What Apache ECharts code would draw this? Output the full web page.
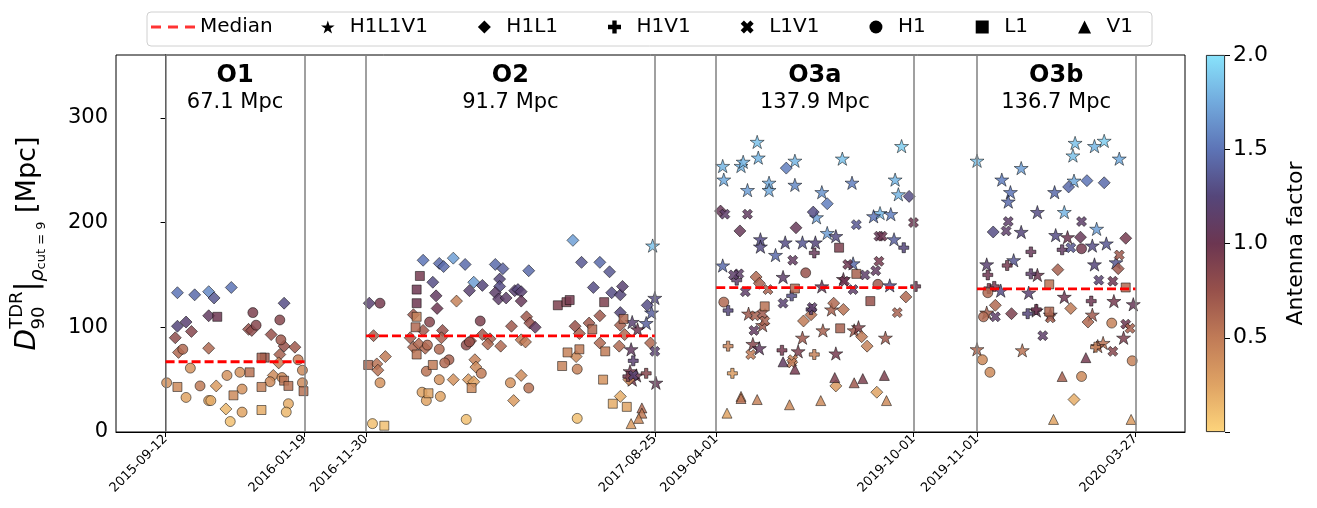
<!DOCTYPE html>
<html><head><meta charset="utf-8">
<script src="https://cdn.jsdelivr.net/npm/echarts@6/dist/echarts.min.js"></script>
<style>html,body{margin:0;padding:0;background:#fff}#c{width:1317px;height:508px}</style>
</head><body><div id="c"></div>
<script>
// ---------- data ----------
const runNames = ['O1', 'O2', 'O3a', 'O3b'];
const runMedians = [67.1, 91.7, 137.9, 136.7];
const runStartDates = ['2015-09-12', '2016-11-30', '2019-04-01', '2019-11-01'];
const runEndDates = ['2016-01-19', '2017-08-25', '2019-10-01', '2020-03-27'];
const runGapDays = [57, 57, 59]; // compressed gaps between runs on the x axis
const yTicks = [0, 100, 200, 300];
const cbTicks = [0.5, 1.0, 1.5, 2.0];
const networks = ['H1L1V1', 'H1L1', 'H1V1', 'L1V1', 'H1', 'L1', 'V1'];

// each point: [run index, day since run start, D90 (Mpc), antenna factor]
const H1L1V1 = [
 [1,266,178,1.85],[1,268,128,1.3],[1,265,114,1.4],[1,260,104,1.4],[1,247,105,1.2],[1,252,98,1.0],[1,246,79,1.1],[1,269,47,1.05],[1,245,58,0.95],[1,251,54,1.0],[1,247,50,0.95],
 [2,38,277,1.85],[2,39,262,1.8],[2,6,254,1.8],[2,7,241,1.75],[2,23,254,1.8],[2,25,258,1.8],[2,73,259,1.8],[2,117,261,1.85],[2,172,273,1.9],[2,49,238,1.75],[2,49,231,1.75],[2,29,231,1.7],[2,73,236,1.6],[2,98,229,1.65],[2,126,238,1.55],[2,166,241,1.8],[2,169,227,1.8],[2,93,205,1.7],[2,152,209,1.8],[2,146,206,1.5],[2,162,208,1.55],[2,41,184,1.3],[2,41,177,1.3],[2,64,181,1.3],[2,80,181,1.35],[2,92,181,1.25],[2,55,169,1.45],[2,103,190,1.7],[2,111,187,1.3],[2,165,184,1.4],[2,6,159,1.45],[2,62,148,1.15],[2,127,161,1.45],[2,161,140,1.3],[2,98,139,1.05],[2,107,117,0.65],[2,30,113,0.7],[2,43,102,0.7],[2,80,90,0.7],[2,99,97,0.65],[2,128,97,0.7],[2,132,100,0.85],[2,157,90,0.7],[2,34,84,0.85],[2,40,80,1.1],[2,76,77,0.9],[2,111,75,0.95],[2,118,146,1.0],
 [3,0,259,1.85],[3,41,252,1.7],[3,23,241,1.55],[3,31,229,1.5],[3,29,220,1.45],[3,91,276,1.85],[3,89,264,1.85],[3,109,273,1.8],[3,118,278,1.9],[3,132,261,1.75],[3,72,229,1.45],[3,90,240,1.75],[3,81,210,1.8],[3,56,210,1.3],[3,111,194,1.7],[3,41,191,1.25],[3,73,188,1.3],[3,84,186,1.0],[3,107,178,1.3],[3,120,180,1.35],[3,34,164,1.35],[3,9,160,1.2],[3,109,160,1.25],[3,129,162,1.35],[3,56,150,1.0],[3,22,135,1.3],[3,48,133,1.2],[3,81,129,1.0],[3,127,125,0.95],[3,145,122,1.05],[3,107,112,0.7],[3,9,114,0.65],[3,55,116,1.05],[3,68,112,1.1],[3,136,90,0.9],[3,117,85,0.55],[3,112,82,0.6],[3,0,79,0.6],[3,42,78,0.55]
];
const H1L1 = [
 [0,11,133,1.5],[0,27,131,1.45],[0,40,134,1.6],[0,45,128,1.35],[0,61,138,1.5],[0,110,123,1.3],[0,11,101,1.25],[0,19,105,1.2],[0,24,96,0.85],[0,9,90,0.8],[0,40,111,1.1],[0,40,80,0.6],[0,12,76,0.6],[0,77,98,0.75],[0,80,97,0.8],[0,98,93,0.75],[0,110,82,0.75],[0,120,81,0.7],[0,106,74,0.65],[0,105,66,0.45],[0,100,54,0.4],[0,47,44,0.3],[0,56,22,0.15],
 [1,53,164,1.5],[1,68,161,1.45],[1,72,158,1.45],[1,81,166,1.7],[1,92,160,1.45],[1,120,160,1.45],[1,127,156,1.4],[1,100,143,1.7],[1,108,140,1.25],[1,96,135,1.2],[1,124,146,1.25],[1,124,139,1.3],[1,120,133,1.15],[1,123,127,1.15],[1,130,128,1.15],[1,138,135,1.2],[1,62,143,1.3],[1,65,130,1.1],[1,66,118,1.0],[1,84,125,0.45],[1,3,123,1.2],[1,44,112,0.7],[1,53,97,0.7],[1,71,97,0.75],[1,7,92,0.65],[1,41,90,0.65],[1,44,81,0.6],[1,49,84,0.6],[1,55,80,0.6],[1,70,90,0.65],[1,97,87,0.7],[1,108,93,0.7],[1,115,89,0.65],[1,113,84,0.6],[1,125,82,0.6],[1,135,101,0.7],[1,18,72,0.5],[1,10,65,0.55],[1,11,59,0.55],[1,101,69,0.45],[1,102,62,0.4],[1,81,50,0.35],[1,95,50,0.3],[1,100,48,0.25],[1,137,30,0.3],
 [1,192,183,1.7],[1,200,162,1.35],[1,217,162,1.45],[1,226,153,1.35],[1,151,154,1.45],[1,141,136,1.25],[1,144,134,1.2],[1,144,125,1.05],[1,211,138,1.3],[1,228,133,1.3],[1,236,131,1.25],[1,238,139,1.2],[1,261,121,1.3],[1,236,114,1.25],[1,149,110,0.7],[1,152,104,0.75],[1,157,100,1.1],[1,194,101,0.75],[1,207,104,0.7],[1,217,111,0.7],[1,198,94,0.65],[1,236,102,0.65],[1,240,93,0.6],[1,217,85,0.6],[1,235,82,0.6],[1,264,85,0.6],[1,144,88,0.5],[1,148,86,0.5],[1,195,72,0.4],[1,144,54,0.4],[1,236,34,0.2],[1,244,50,0.4],
 [2,65,252,1.55],[2,103,218,1.55],[2,90,210,1.3],[2,179,225,1.3],[2,4,211,1.05],[2,22,192,1.05],[2,74,195,1.05],[2,37,148,0.6],[2,40,142,0.65],[2,176,129,0.6],[2,109,123,0.6],[2,118,117,0.55],[2,81,106,0.5],[2,88,112,0.55],[2,135,91,0.5],[2,140,82,0.45],[2,111,44,0.3],[2,149,38,0.25],
 [3,102,240,1.5],[3,118,238,1.45],[3,85,234,1.45],[3,15,191,1.3],[3,96,186,1.05],[3,138,185,0.95],[3,75,155,0.65],[3,131,156,0.7],[3,17,121,0.6],[3,32,113,0.9],[3,87,118,0.5],[3,103,105,0.6],[3,90,31,0.2]
];
const H1V1 = [
 [1,248,68,1.2],[1,260,56,0.85],[1,243,53,0.95],
 [2,174,176,1.25],[2,91,171,1.05],[2,19,145,1.15],[2,11,116,1.25],[2,70,130,1.3],[2,88,117,1.2],[2,11,82,0.45],[2,61,78,0.95],[2,91,74,0.45],[2,15,56,0.3],[2,185,139,1.0],
 [3,50,172,1.05],[3,79,174,1.1],[3,28,159,0.95],[3,10,150,1.0],[3,50,151,1.15],[3,16,139,0.95],[3,47,113,1.25],[3,55,117,1.0],[3,106,125,1.0],[3,110,81,0.45],[3,11,137,0.9]
];
const L1V1 = [
 [1,268,77,1.2],[1,248,54,1.2],
 [2,8,208,1.15],[2,29,208,1.1],[2,71,164,1.1],[2,130,198,1.35],[2,151,187,1.05],[2,154,187,1.0],[2,183,200,1.0],[2,21,151,1.15],[2,122,160,1.0],[2,151,163,0.95],[2,148,154,1.1],[2,138,150,1.15],[2,62,123,1.2],[2,168,114,0.65],[2,89,119,1.15],[2,36,111,0.65],[2,43,113,0.7],[2,45,106,0.65],[2,35,97,1.1],[2,32,74,0.5],[2,71,69,0.45],[2,70,66,0.5],[2,27,134,1.15],[2,48,136,0.65],[2,127,136,1.15],[2,119,144,1.0],[2,16,150,1.15],
 [3,29,201,1.15],[3,27,192,1.15],[3,97,201,1.15],[3,87,176,1.35],[3,113,145,1.2],[3,126,144,1.0],[3,132,169,0.7],[3,17,110,1.15],[3,68,109,0.65],[3,138,103,1.0],[3,142,99,0.65],[3,61,92,1.15],[3,126,77,0.85]
];
const H1 = [
 [0,81,114,0.9],[0,84,102,0.85],[0,106,107,0.85],[0,107,88,0.7],[0,16,79,0.6],[0,123,69,0.45],[0,127,59,0.4],[0,127,47,0.4],[0,1,47,0.35],[0,23,61,0.35],[0,32,44,0.5],[0,57,54,0.35],[0,69,57,0.35],[0,71,41,0.35],[0,97,48,0.4],[0,108,52,0.4],[0,19,33,0.25],[0,40,30,0.25],[0,42,30,0.2],[0,71,19,0.25],[0,114,27,0.2],[0,112,19,0.15],[0,60,10,0.1],
 [1,13,123,0.95],[1,59,105,0.85],[1,106,106,0.9],[1,57,83,0.6],[1,68,79,0.6],[1,93,83,0.8],[1,96,86,0.75],[1,77,69,0.65],[1,73,66,0.6],[1,56,58,0.55],[1,107,56,0.5],[1,13,47,0.35],[1,68,50,0.35],[1,134,47,0.35],[1,52,38,0.25],[1,56,30,0.25],[1,69,34,0.25],[1,6,8,0.1],[1,93,12,0.1],[1,196,60,0.45],[1,151,42,0.55],[1,196,13,0.1],
 [2,7,124,0.6],[2,83,152,0.75],[2,150,141,0.7],
 [3,97,175,0.95],[3,10,133,0.6],[3,6,110,0.6],[3,125,104,0.45],[3,5,69,0.4],[3,12,57,0.4],[3,97,53,0.4],[3,144,68,0.45]
];
const L1 = [
 [0,48,110,1.0],[0,92,71,0.7],[0,89,71,0.65],[0,78,57,0.55],[0,110,49,0.55],[0,114,44,0.55],[0,128,39,0.55],[0,89,43,0.45],[0,11,43,0.4],[0,63,35,0.4],[0,89,21,0.2],
 [1,50,149,0.95],[1,47,136,1.0],[1,47,123,1.0],[1,47,110,0.45],[1,46,100,0.6],[1,2,64,0.6],[1,47,74,0.55],[1,62,64,0.5],[1,98,42,0.4],[1,58,37,0.25],[1,17,6,0.1],[1,178,121,0.9],[1,186,124,0.9],[1,189,126,0.95],[1,221,124,0.9],[1,210,98,0.6],[1,239,108,0.6],[1,198,79,0.5],[1,187,76,0.45],[1,222,77,0.5],[1,182,63,0.45],[1,220,50,0.35],[1,229,27,0.2],[1,242,24,0.25],
 [2,114,176,0.9],[2,130,151,0.65],[2,45,120,0.55],[2,143,125,0.75],[2,115,99,0.65],[2,73,137,0.6],
 [3,67,141,0.55],[3,138,138,0.6],[3,67,115,0.6]
];
const V1 = [
 [1,256,23,0.6],[1,256,18,0.5],[1,253,13,0.4],[1,246,8,0.3],
 [2,62,67,1.1],[2,73,60,0.95],[2,110,52,0.9],[2,128,47,0.7],[2,136,51,0.9],[2,156,54,0.9],[2,23,34,0.45],[2,23,32,0.55],[2,38,31,0.45],[2,68,26,0.4],[2,97,30,0.4],[2,158,30,0.4],[2,10,18,0.25],
 [3,101,71,0.95],[3,79,53,0.65],[3,71,12,0.25],[3,143,12,0.3]
];
// colormap (antenna factor 0 -> 2)
const cmapColors = ['#fdd47b','#dfa364','#c07b57','#97514b','#6c3651','#55467a','#5d74b6','#72aadd','#88e3fb'];

// ---------- layout helpers ----------
const DAY = 86400000;
const runLen = runStartDates.map((d, i) => Math.round((Date.parse(runEndDates[i]) - Date.parse(d)) / DAY));
const runStart = [0];
for (let i = 1; i < 4; i++) runStart.push(runStart[i - 1] + runLen[i - 1] + runGapDays[i - 1]);
const pad = 46;
const xMin = -pad, xMax = runStart[3] + runLen[3] + pad;
const tickVals = [], tickLbl = {};
for (let i = 0; i < 4; i++) {
  tickVals.push(runStart[i], runStart[i] + runLen[i]);
  tickLbl[runStart[i]] = runStartDates[i];
  tickLbl[runStart[i] + runLen[i]] = runEndDates[i];
}
const toXY = arr => arr.map(p => [runStart[p[0]] + p[1], p[2], p[3]]);

const STAR = 'path://M0,-1L0.2245,-0.309L0.951,-0.309L0.363,0.118L0.588,0.809L0,0.382L-0.588,0.809L-0.363,0.118L-0.951,-0.309L-0.2245,-0.309Z';
const PLUS = 'path://M-1,-3L1,-3L1,-1L3,-1L3,1L1,1L1,3L-1,3L-1,1L-3,1L-3,-1L-1,-1Z';
const XMARK = 'path://M2,-4L4,-2L2,0L4,2L2,4L0,2L-2,4L-4,2L-2,0L-4,-2L-2,-4L0,-2Z';
const DIAM = 'path://M0,-1L1,0L0,1L-1,0Z';
const SQR = 'path://M-1,-1L1,-1L1,1L-1,1Z';
const TRI = 'path://M0,-1L1,1L-1,1Z';
const DASH = 'path://M0,0h10v3h-10zM17,0h10v3h-10zM34,0h10v3h-10z';
const netData = { H1L1V1, H1L1, H1V1, L1V1, H1, L1, V1 };
const netSymbol = { H1L1V1: [STAR, 14], H1L1: [DIAM, 12], H1V1: [PLUS, 10], L1V1: [XMARK, 10], H1: ['circle', 10], L1: [SQR, 9], V1: [TRI, 10] };

const FONT = 'DejaVu Sans';
const series = networks.map(n => ({
  name: n, type: 'scatter', xAxisIndex: 0, yAxisIndex: 0,
  symbol: netSymbol[n][0], symbolSize: netSymbol[n][1], symbolKeepAspect: true,
  itemStyle: { opacity: 0.85, borderColor: '#000', borderWidth: 0.6 },
  data: toXY(netData[n]), z: 3, silent: true
}));

// legend proxy for the median line
series.push({ name: 'Median', type: 'scatter', data: [], symbol: DASH, symbolKeepAspect: true, itemStyle: { color: '#ff0000' } });
// median line segments
const medData = [];
for (let i = 0; i < 4; i++) {
  if (i > 0) medData.push([runStart[i] - 1, '-']);
  medData.push([runStart[i], runMedians[i]], [runStart[i] + runLen[i], runMedians[i]]);
}
series.push({
  name: 'medianLine', type: 'line', data: medData, symbol: 'none', connectNulls: false,
  lineStyle: { color: '#ff0000', width: 2.8, type: [9, 4] }, itemStyle: { color: '#ff0000' }, z: 5, silent: true
});
// run boundaries
series.push({
  name: 'bounds', type: 'line', data: [], z: 1, silent: true,
  markLine: { silent: true, symbol: ['none', 'none'], label: { show: false },
    lineStyle: { color: '#808080', width: 1.5, type: 'solid' }, animation: false,
    data: tickVals.map(v => ({ xAxis: v })) }
});
// run labels
const noBorder = { textBorderWidth: 0, textBorderColor: 'transparent', textShadowBlur: 0 };
series.push({
  name: 'runLabels', type: 'scatter', symbolSize: 0, silent: true, z: 6,
  itemStyle: { color: '#000', opacity: 1 },
  data: runNames.map((n, i) => [runStart[i] + runLen[i] / 2, 328, n, runMedians[i]]),
  label: Object.assign({ show: true, position: 'inside', color: '#000', opacity: 1, fontFamily: FONT,
    formatter: p => '{a|' + p.data[2] + '}\n{b|' + p.data[3].toFixed(1) + ' Mpc}',
    rich: { a: Object.assign({ fontSize: 24, fontWeight: 'bold', lineHeight: 28, color: '#000', fontFamily: FONT, align: 'center' }, noBorder),
            b: Object.assign({ fontSize: 21, lineHeight: 26, color: '#000', fontFamily: FONT, align: 'center' }, noBorder) } }, noBorder)
});
// colorbar
series.push({
  name: 'colorbar', type: 'bar', xAxisIndex: 1, yAxisIndex: 1, data: [2], barWidth: '100%', silent: true,
  itemStyle: { borderColor: '#000', borderWidth: 0.8,
    color: { type: 'linear', x: 0, y: 1, x2: 0, y2: 0,
      colorStops: cmapColors.map((c, i) => ({ offset: i / (cmapColors.length - 1), color: c })) } }
});

const option = {
  animation: false,
  backgroundColor: '#fff',
  textStyle: { fontFamily: FONT },
  grid: [
    { left: 113, top: 55, width: 1072, height: 377, show: true, borderColor: '#000', borderWidth: 1, backgroundColor: 'transparent' },
    { left: 1206, top: 55, width: 19, height: 377 }
  ],
  xAxis: [
    { type: 'value', gridIndex: 0, min: xMin, max: xMax,
      axisLine: { lineStyle: { color: '#000', width: 1 } },
      splitLine: { show: false },
      axisTick: { customValues: tickVals, length: 5, lineStyle: { color: '#000' } },
      axisLabel: { customValues: tickVals, rotate: 45, fontSize: 13, color: '#000', margin: 5, fontFamily: FONT,
        formatter: v => tickLbl[v] || '' } },
    { type: 'category', gridIndex: 1, data: ['cb'], show: false }
  ],
  yAxis: [
    { type: 'value', gridIndex: 0, min: 0, max: 360,
      axisLine: { show: true, lineStyle: { color: '#000', width: 1 } },
      splitLine: { show: false },
      axisTick: { show: true, customValues: yTicks, length: 5, lineStyle: { color: '#000' } },
      axisLabel: { customValues: yTicks, fontSize: 21, color: '#000', margin: 8, fontFamily: FONT },
      name: '{d|D}{sup|TDR}{sub|90}{bar||}{rho|ρ}{cut|cut = 9}{n| [Mpc]}',
      nameLocation: 'middle', nameGap: 68, nameRotate: 90,
      nameTextStyle: { color: '#000', fontFamily: FONT, rich: {
        d: { fontSize: 28, fontStyle: 'italic', lineHeight: 40, fontFamily: FONT, verticalAlign: 'middle' },
        sup: { fontSize: 18, lineHeight: 18, verticalAlign: 'top', fontFamily: FONT },
        sub: { fontSize: 18, lineHeight: 18, verticalAlign: 'bottom', fontFamily: FONT, padding: [0, 15, 0, -38] },
        bar: { fontSize: 30, lineHeight: 40, fontFamily: FONT, verticalAlign: 'middle' },
        rho: { fontSize: 19, fontStyle: 'italic', lineHeight: 19, verticalAlign: 'bottom', fontFamily: FONT },
        cut: { fontSize: 13, lineHeight: 14, verticalAlign: 'bottom', fontFamily: FONT },
        n: { fontSize: 27, lineHeight: 40, fontFamily: FONT, verticalAlign: 'middle' } } } },
    { type: 'value', gridIndex: 1, min: 0, max: 2, interval: 0.5, position: 'right',
      axisLine: { show: false }, splitLine: { show: false },
      axisTick: { show: true, length: 5, lineStyle: { color: '#000' } },
      axisLabel: { fontSize: 22, color: '#000', margin: 8, fontFamily: FONT,
        formatter: v => (cbTicks.indexOf(v) >= 0 ? v.toFixed(1) : '') },
      name: 'Antenna factor', nameLocation: 'middle', nameRotate: 90, nameGap: 60,
      nameTextStyle: { fontSize: 22, color: '#000', fontFamily: FONT } }
  ],
  visualMap: {
    type: 'continuous', show: false, min: 0, max: 2, dimension: 2,
    seriesIndex: [0, 1, 2, 3, 4, 5, 6],
    inRange: { color: cmapColors }
  },
  legend: [
    { data: ['Median'], left: 151, top: 17, itemWidth: 44, itemHeight: 14, padding: 0,
      textStyle: { fontSize: 20, color: '#000', fontFamily: FONT } },
    { data: networks, left: 321, top: 17, itemWidth: 34, itemHeight: 13, itemGap: 50, padding: 0,
      itemStyle: { color: '#000', borderWidth: 0, opacity: 1 },
      textStyle: { fontSize: 20, color: '#000', fontFamily: FONT } }
  ],
  graphic: [
    { type: 'rect', shape: { x: 147, y: 12, width: 1005, height: 34, r: 4 }, z: -1,
      style: { fill: '#fff', stroke: '#d0d0d0', lineWidth: 1 } }
  ],
  series: series
};
const chart = echarts.init(document.getElementById('c'), null, { renderer: 'canvas' });
chart.setOption(option);
</script>
</body></html>
